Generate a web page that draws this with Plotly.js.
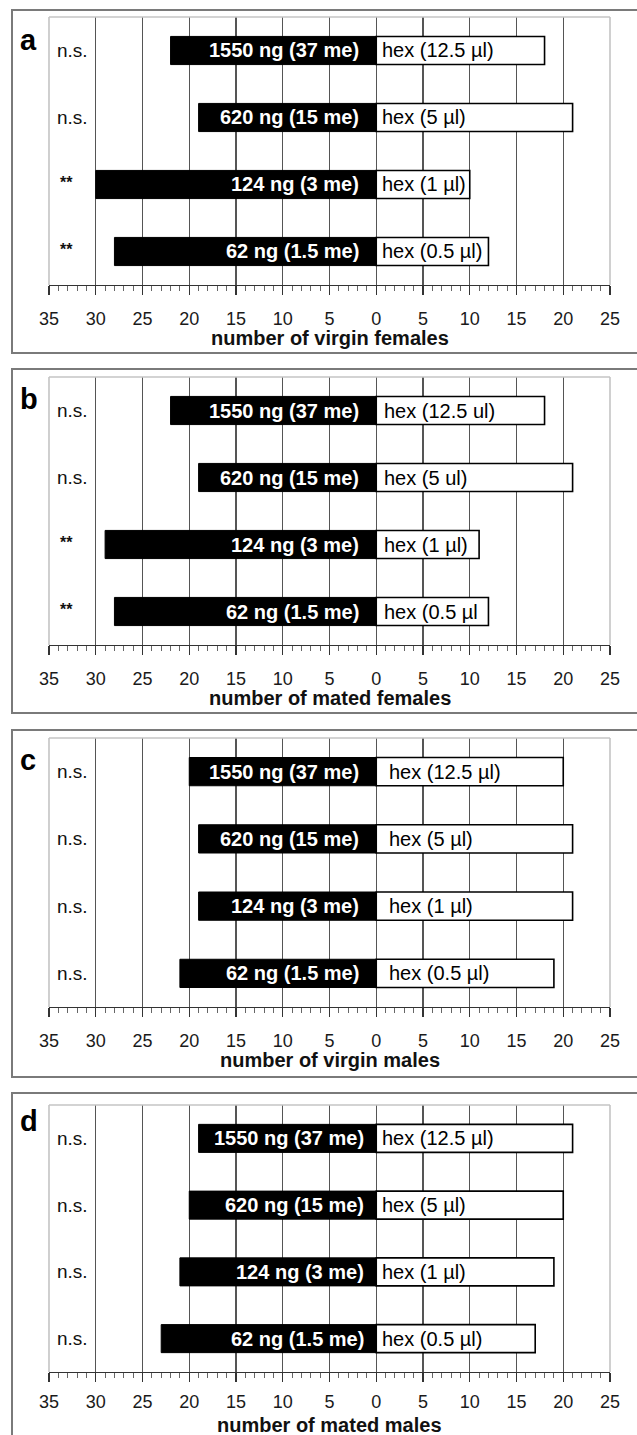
<!DOCTYPE html>
<html>
<head>
<meta charset="utf-8">
<script src="https://cdn.plot.ly/plotly-3.0.1.min.js"></script>
<style>
html,body{margin:0;padding:0;background:#fff;}
#chart{width:637px;height:1435px;}
</style>
</head>
<body>
<div id="chart"></div>
<script>
// ---------- data ----------
const doseCategories = ['1550 ng', '620 ng', '124 ng', '62 ng'];
const doseLabels = ['1550 ng (37 me)', '620 ng (15 me)', '124 ng (3 me)', '62 ng (1.5 me)'];
const hexLabels = ['hex (12.5 \u00b5l)', 'hex (5 \u00b5l)', 'hex (1 \u00b5l)', 'hex (0.5 \u00b5l)'];
const hexLabelsB = ['hex (12.5 ul)', 'hex (5 ul)', 'hex (1 \u00b5l)', 'hex (0.5 \u00b5l'];

const virginFemalesTreated = [22, 19, 30, 28];
const virginFemalesHex     = [18, 21, 10, 12];
const virginFemalesSig     = ['n.s.', 'n.s.', '**', '**'];

const matedFemalesTreated  = [22, 19, 29, 28];
const matedFemalesHex      = [18, 21, 11, 12];
const matedFemalesSig      = ['n.s.', 'n.s.', '**', '**'];

const virginMalesTreated   = [20, 19, 19, 21];
const virginMalesHex       = [20, 21, 21, 19];
const virginMalesSig       = ['n.s.', 'n.s.', 'n.s.', 'n.s.'];

const matedMalesTreated    = [19, 20, 21, 23];
const matedMalesHex        = [21, 20, 19, 17];
const matedMalesSig        = ['n.s.', 'n.s.', 'n.s.', 'n.s.'];

const tickValues = [-35, -30, -25, -20, -15, -10, -5, 0, 5, 10, 15, 20, 25];
const tickLabels = ['35', '30', '25', '20', '15', '10', '5', '0', '5', '10', '15', '20', '25'];

const panelTitles = ['number of virgin females', 'number of mated females', 'number of virgin males', 'number of mated males'];
const panelLetters = ['a', 'b', 'c', 'd'];

// ---------- layout config (pixels) ----------
const W = 637, H = 1435;
const FONT = 'Liberation Sans, Arial, Helvetica, sans-serif';
const plotLeft = 49, plotRight = 610;
const geom = [
  {top: 17,   bottom: 285,  boxTop: 10,   boxBottom: 353,  letterY: 40,   titleY: 338,  labelGap: 8, hexLab: hexLabels,  hexShift: 4, doseShift: -15},
  {top: 377,  bottom: 645,  boxTop: 369,  boxBottom: 713,  letterY: 399,  titleY: 698,  labelGap: 8, hexLab: hexLabelsB, hexShift: 6, doseShift: -15},
  {top: 738,  bottom: 1007, boxTop: 730,  boxBottom: 1077, letterY: 760,  titleY: 1060, labelGap: 8, hexLab: hexLabels,  hexShift: 11, doseShift: -15},
  {top: 1105, bottom: 1372, boxTop: 1093, boxBottom: 1460, letterY: 1121, titleY: 1425, labelGap: 4, hexLab: hexLabels,  hexShift: 4, doseShift: -10}
];
const series = [
  [virginFemalesTreated, virginFemalesHex, virginFemalesSig],
  [matedFemalesTreated, matedFemalesHex, matedFemalesSig],
  [virginMalesTreated, virginMalesHex, virginMalesSig],
  [matedMalesTreated, matedMalesHex, matedMalesSig]
];

const px = v => v / W;
const py = v => 1 - v / H;

const traces = [];
const layout = {
  width: W, height: H,
  margin: {l: 0, r: 0, t: 0, b: 0},
  paper_bgcolor: '#fff', plot_bgcolor: '#fff',
  showlegend: false,
  barmode: 'relative',
  font: {family: FONT, color: '#111'},
  shapes: [], annotations: []
};

series.forEach((s, i) => {
  const g = geom[i];
  const k = i === 0 ? '' : String(i + 1);
  const xa = 'x' + k, ya = 'y' + k;
  const treatedNeg = s[0].map(v => -v);

  traces.push({
    type: 'bar', orientation: 'h', xaxis: xa, yaxis: ya,
    y: doseCategories, x: treatedNeg, width: 0.42,
    marker: {color: '#000', line: {color: '#000', width: 1}},
    hoverinfo: 'skip'
  });
  traces.push({
    type: 'bar', orientation: 'h', xaxis: xa, yaxis: ya,
    y: doseCategories, x: s[1], width: 0.42,
    marker: {color: '#fff', line: {color: '#000', width: 1.6}},
    hoverinfo: 'skip'
  });

  layout['xaxis' + k] = {
    domain: [px(plotLeft), px(plotRight)],
    anchor: ya,
    range: [-35, 25],
    tickvals: tickValues, ticktext: tickLabels,
    ticks: 'outside', ticklen: 9, tickwidth: 1.2, tickcolor: '#333',
    ticklabelstandoff: g.labelGap,
    tickfont: {family: FONT, size: 18, color: '#1a1a1a'},
    showgrid: true, gridcolor: '#555', gridwidth: 1.2,
    zeroline: false,
    showline: true, linecolor: '#333', linewidth: 1.4,
    minor: {dtick: 1, tick0: 0, ticks: 'outside', ticklen: 5, tickwidth: 1, tickcolor: '#666', showgrid: false},
    fixedrange: true
  };
  layout['yaxis' + k] = {
    domain: [py(g.bottom), py(g.top)],
    anchor: xa,
    type: 'category',
    categoryorder: 'array', categoryarray: doseCategories,
    autorange: 'reversed',
    showticklabels: false, ticks: '', showgrid: false, zeroline: false, showline: false,
    fixedrange: true
  };

  // axis title (as annotation so the bottom panel's title is not squeezed)
  layout.annotations.push({xref: xa + ' domain', yref: 'paper', x: 0.5, y: py(g.titleY),
    xanchor: 'center', yanchor: 'middle', showarrow: false, text: panelTitles[i],
    font: {family: FONT, size: 20, weight: 'bold', color: '#111'}});

  // panel outer box
  layout.shapes.push({type: 'rect', xref: 'paper', yref: 'paper',
    x0: px(12), x1: px(W + 20), y0: py(g.boxBottom), y1: py(g.boxTop),
    line: {color: '#7a7a7a', width: 2}, fillcolor: 'rgba(0,0,0,0)', layer: 'below'});
  // light plot frame: left, top, right
  const xd = xa + ' domain', yd = ya + ' domain';
  [[0, 0, 0, 1], [0, 1, 1, 1], [1, 1, 1, 0]].forEach(c => {
    layout.shapes.push({type: 'line', xref: xd, yref: yd, x0: c[0], y0: c[1], x1: c[2], y1: c[3],
      line: {color: '#c4c4c4', width: 1.6}, layer: 'above'});
  });

  // panel letter
  layout.annotations.push({xref: 'paper', yref: 'paper', x: px(18), y: py(g.letterY),
    xanchor: 'left', yanchor: 'middle', showarrow: false, text: panelLetters[i],
    font: {family: FONT, size: 29, weight: 'bold', color: '#000'}});

  doseCategories.forEach((c, j) => {
    // significance
    const isStar = s[2][j] === '**';
    layout.annotations.push({xref: 'paper', yref: ya, x: px(isStar ? 66 : 72), y: c,
      xanchor: 'center', yanchor: 'middle', showarrow: false, text: s[2][j],
      yshift: isStar ? 2 : 0,
      font: {family: FONT, size: isStar ? 16 : 19, weight: isStar ? 'bold' : 'normal', color: '#111'}});
    // label in black bar
    layout.annotations.push({xref: xa, yref: ya, x: 0, y: c, xanchor: 'right', yanchor: 'middle',
      xshift: g.doseShift, showarrow: false, text: doseLabels[j],
      font: {family: FONT, size: 20, weight: 'bold', color: '#fff'}});
    // label in white bar
    layout.annotations.push({xref: xa, yref: ya, x: 0, y: c, xanchor: 'left', yanchor: 'middle',
      xshift: g.hexShift, showarrow: false, text: g.hexLab[j],
      font: {family: FONT, size: 20, color: '#000'}});
  });
});

Plotly.newPlot('chart', traces, layout, {staticPlot: true, displayModeBar: false});
</script>
</body>
</html>
